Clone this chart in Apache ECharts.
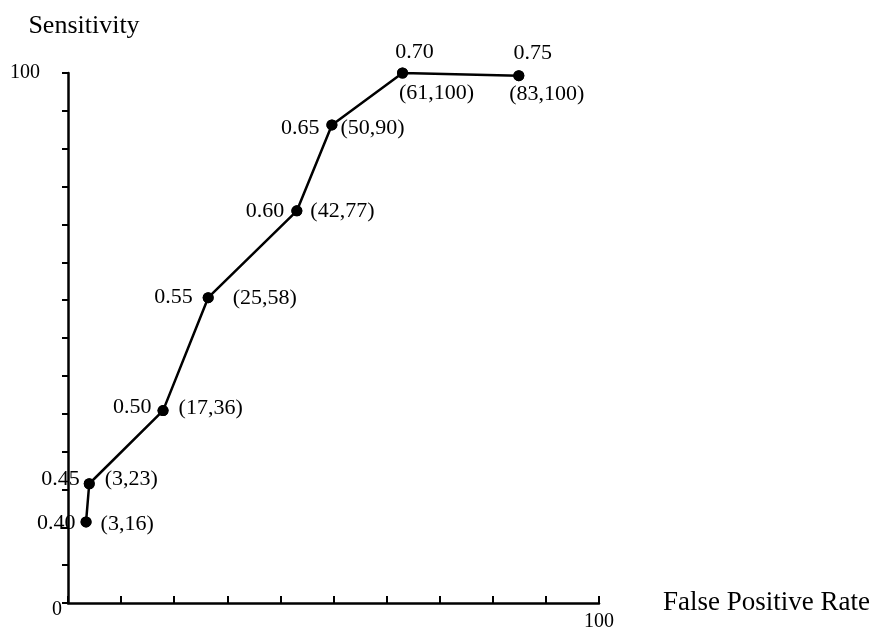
<!DOCTYPE html>
<html>
<head>
<meta charset="utf-8">
<script src="https://cdn.jsdelivr.net/npm/echarts@6/dist/echarts.min.js"></script>
<style>
html,body{margin:0;padding:0;background:#fff;}
#chart{width:876px;height:632px;}
</style>
</head>
<body>
<div id="chart"></div>
<script>
// Data
const falsePositiveRate = [3.4, 4.0, 17.9, 26.4, 43.1, 49.7, 63.0, 84.9];
const sensitivity = [15.3, 22.5, 36.3, 57.6, 74.0, 90.2, 100, 99.5];
const thresholds = ['0.40', '0.45', '0.50', '0.55', '0.60', '0.65', '0.70', '0.75'];
const coordLabels = ['(3,16)', '(3,23)', '(17,36)', '(25,58)', '(42,77)', '(50,90)', '(61,100)', '(83,100)'];
const xAxisMax = 100;
const yAxisMax = 100;
const yTickCount = 14;

// Label placement (layout, not data)
const thrPlace = [
  {position: 'left', distance: 5, offset: [0, 1]},
  {position: 'left', distance: 4, offset: [0, -5]},
  {position: 'left', distance: 6, offset: [0, -3]},
  {position: 'left', distance: 10, offset: [0, -1]},
  {position: 'left', distance: 7, offset: [0, 0]},
  {position: 'left', distance: 7, offset: [0, 3]},
  {position: 'top', distance: 4, offset: [12, 0]},
  {position: 'top', distance: 6, offset: [14, 0]}
];
const coordPlace = [
  {position: 'right', distance: 9, offset: [0, 2]},
  {position: 'right', distance: 10, offset: [0, -5]},
  {position: 'right', distance: 10, offset: [0, -2]},
  {position: 'right', distance: 19, offset: [0, 0]},
  {position: 'right', distance: 8, offset: [0, 0]},
  {position: 'right', distance: 3, offset: [0, 3]},
  {position: 'bottom', distance: 4, offset: [34, 0]},
  {position: 'bottom', distance: 2, offset: [28, 0]}
];

const font = 'Liberation Serif';
const pts = falsePositiveRate.map((x, i) => [x, sensitivity[i]]);

const chart = echarts.init(document.getElementById('chart'), null, {renderer: 'canvas'});
chart.setOption({
  backgroundColor: '#fff',
  animation: false,
  grid: {left: 68, right: 277, top: 73, bottom: 26, containLabel: false},
  xAxis: {
    type: 'value', min: 0, max: xAxisMax, interval: 10,
    name: 'False Positive Rate', nameLocation: 'end', nameGap: 64,
    nameTextStyle: {fontFamily: font, fontSize: 27, color: '#000', padding: [0, 0, 18, 0]},
    axisLine: {show: true, lineStyle: {color: '#000', width: 2.5}},
    axisTick: {show: true, inside: true, length: 7, lineStyle: {color: '#000', width: 2}},
    axisLabel: {
      show: true, fontFamily: font, fontSize: 20, color: '#000', margin: 9,
      formatter: v => (v >= xAxisMax - 0.001 ? String(xAxisMax) : '')
    },
    splitLine: {show: false}
  },
  yAxis: {
    type: 'value', min: 0, max: yAxisMax, interval: yAxisMax / yTickCount,
    name: 'Sensitivity', nameLocation: 'end', nameGap: 34,
    nameTextStyle: {fontFamily: font, fontSize: 26, color: '#000', padding: [0, 0, 0, 32]},
    axisLine: {show: true, lineStyle: {color: '#000', width: 2.5}},
    axisTick: {show: true, inside: false, length: 6, lineStyle: {color: '#000', width: 2}},
    axisLabel: {
      show: true, fontFamily: font, fontSize: 20, color: '#000', margin: 6,
      formatter: v => (v >= yAxisMax - 0.001 ? '{a|' + yAxisMax + '}' : (v === 0 ? '{b|0}' : '')),
      rich: {
        a: {fontFamily: font, fontSize: 20, color: '#000', padding: [0, 22, 0, 0]},
        b: {fontFamily: font, fontSize: 20, color: '#000', padding: [13, 0, 0, 0]}
      }
    },
    splitLine: {show: false}
  },
  series: [
    {
      type: 'line',
      data: pts.map((p, i) => ({
        value: p,
        label: Object.assign({show: true}, thrPlace[i])
      })),
      symbol: 'circle', symbolSize: 11,
      itemStyle: {color: '#000', opacity: 1},
      lineStyle: {color: '#000', width: 2.5},
      label: {
        show: true, fontFamily: font, fontSize: 22, color: '#000',
        formatter: p => thresholds[p.dataIndex]
      },
      z: 3
    },
    {
      type: 'line',
      data: pts.map((p, i) => ({
        value: p,
        label: Object.assign({show: true}, coordPlace[i])
      })),
      symbol: 'circle', symbolSize: 11,
      itemStyle: {color: '#000', opacity: 1},
      lineStyle: {width: 0, opacity: 0},
      label: {
        show: true, fontFamily: font, fontSize: 22, color: '#000',
        formatter: p => coordLabels[p.dataIndex]
      },
      z: 4
    }
  ]
});
</script>
</body>
</html>
